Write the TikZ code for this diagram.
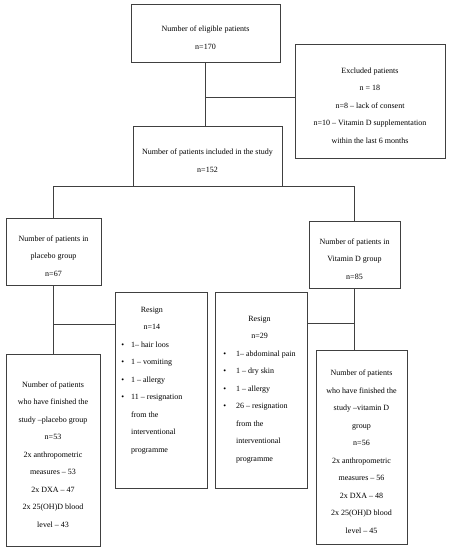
\documentclass[tikz,border=0pt]{standalone}
\usepackage{fontspec}
\setmainfont{Liberation Serif}
\usepackage{tikz}

\begin{document}
\begin{tikzpicture}[x=1pt, y=-1pt, box/.style={draw=black!75, line width=0.7pt, inner sep=0pt}, txt/.style={inner sep=0pt, align=center, font=\fontsize{8}{17.5}\selectfont}, list/.style={inner sep=0pt, font=\fontsize{8}{17.5}\selectfont}, link/.style={draw=black!75, line width=0.6pt}]
        \useasboundingbox (0,0) rectangle (450,550);
        \node[box, minimum width=149pt, minimum height=58pt] (elig) at (205.5,33) {};
        \node[box, minimum width=150pt, minimum height=114pt] (excl) at (370,101) {};
        \node[box, minimum width=149pt, minimum height=60pt] (incl) at (207.5,156) {};
        \node[box, minimum width=95pt, minimum height=67pt] (plac) at (53.5,251.5) {};
        \node[box, minimum width=91pt, minimum height=67pt] (vitd) at (354.5,254.5) {};
        \node[box, minimum width=92pt, minimum height=196pt] (resP) at (161,390) {};
        \node[box, minimum width=92pt, minimum height=196pt] (resV) at (261,390) {};
        \node[box, minimum width=94pt, minimum height=192pt] (finP) at (53,450) {};
        \node[box, minimum width=91pt, minimum height=194pt] (finV) at (361.5,447) {};
        \node[txt] (eligtxt) at ([yshift=-4.5pt]elig.center) {Number of eligible patients\\n=170};
        \node[txt] (excltxt) at ([yshift=-4.5pt]excl.center) {Excluded patients\\n = 18\\n=8 -- lack of consent\\n=10 -- Vitamin D supplementation\\within the last 6 months};
        \node[txt] (incltxt) at ([yshift=-4.5pt]incl.center) {Number of patients included in the study\\n=152};
        \node[txt] (plactxt) at ([yshift=-4.5pt]plac.center) {Number of patients in\\placebo group\\n=67};
        \node[txt] (vitdtxt) at ([yshift=-4.5pt]vitd.center) {Number of patients in\\Vitamin D group\\n=85};
        \node[txt] (finPtxt) at ([yshift=-4.5pt]finP.center) {Number of patients\\who have finished the\\study --placebo group\\n=53\\2x anthropometric\\measures -- 53\\2x DXA -- 47\\2x 25(OH)D blood\\level -- 43};
        \node[txt] (finVtxt) at ([yshift=-4.5pt]finV.center) {Number of patients\\who have finished the\\study --vitamin D\\group\\n=56\\2x anthropometric\\measures -- 56\\2x DXA -- 48\\2x 25(OH)D blood\\level -- 45};
        \node[list, anchor=north west] (resPtxt) at ([xshift=6.5pt, yshift=-8pt]resP.north west) {\begin{tabular}{@{}l@{\hspace{7pt}}l@{}}
                \multicolumn{2}{c}{Resign}\\
                \multicolumn{2}{c}{n=14}\\
                \textbullet & 1-- hair loos\\
                \textbullet & 1 -- vomiting\\
                \textbullet & 1 -- allergy\\
                \textbullet & 11 -- resignation\\
                & from the\\
                & interventional\\
                & programme
            \end{tabular}};
        \node[list, anchor=north west] (resVtxt) at ([xshift=8.5pt, yshift=-17pt]resV.north west) {\begin{tabular}{@{}l@{\hspace{10pt}}l@{}}
                \multicolumn{2}{c}{Resign}\\
                \multicolumn{2}{c}{n=29}\\
                \textbullet & 1-- abdominal pain\\
                \textbullet & 1 -- dry skin\\
                \textbullet & 1 -- allergy\\
                \textbullet & 26 -- resignation\\
                & from the\\
                & interventional\\
                & programme
            \end{tabular}};
        \coordinate (j1) at (205.5,97);
        \coordinate (jP) at (53.5,324);
        \coordinate (jV) at (354.5,323);
        \draw[link] (elig.south) -- (elig.south |- incl.north);
        \draw[link] (j1) -- (j1 -| excl.west);
        \draw[link] (plac.north) |- (incl.south) -| (vitd.north);
        \draw[link] (plac.south) -- (plac.south |- finP.north);
        \draw[link] (jP) -- (jP -| resP.west);
        \draw[link] (vitd.south) -- (vitd.south |- finV.north);
        \draw[link] (jV) -- (jV -| resV.east);
    \end{tikzpicture}
\end{document}
